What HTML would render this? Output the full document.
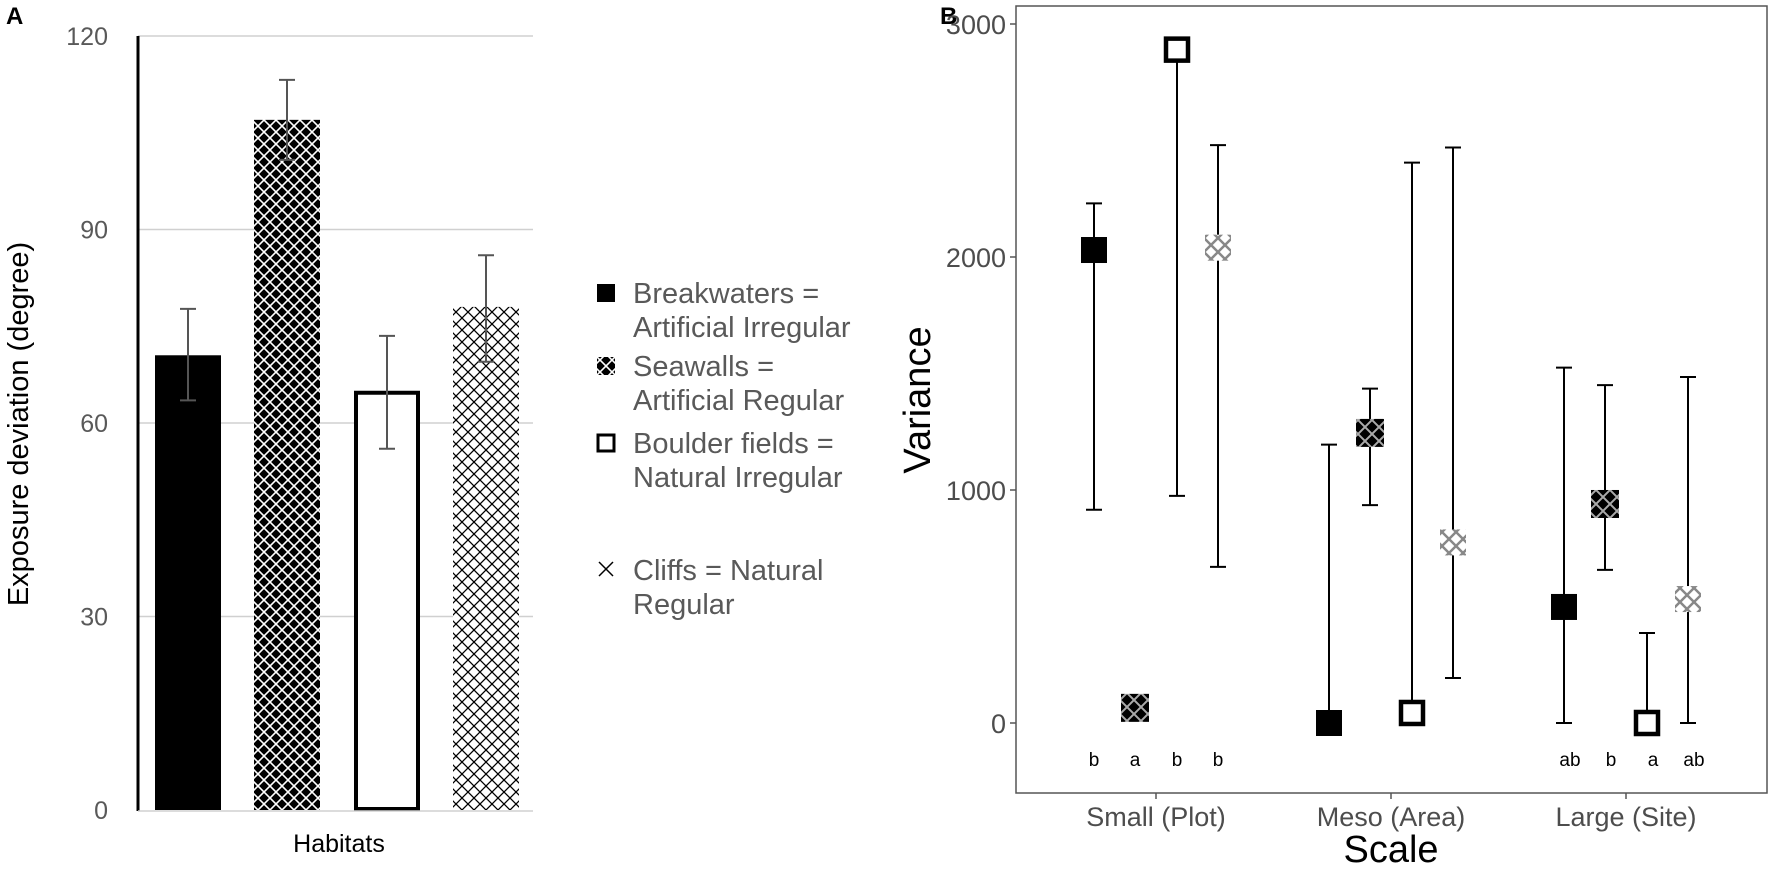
<!DOCTYPE html>
<html><head><meta charset="utf-8"><style>
body{margin:0;background:#fff;width:1772px;height:872px;overflow:hidden}
svg{display:block}
text{font-family:"Liberation Sans",sans-serif}
</style></head><body>
<svg id="fig" width="1772" height="872" viewBox="0 0 1772 872">
<defs>
<pattern id="pSea" width="12" height="12" patternUnits="userSpaceOnUse">
<rect width="12" height="12" fill="#000"/>
<path d="M0,0L12,12M12,0L0,12" stroke="#fff" stroke-width="1.6"/>
</pattern>
<pattern id="pCliff" width="12" height="12" patternUnits="userSpaceOnUse">
<rect width="12" height="12" fill="#fff"/>
<path d="M0,0L12,12M12,0L0,12" stroke="#000" stroke-width="1.3"/>
</pattern>
<pattern id="pSeaM" width="14" height="14" patternUnits="userSpaceOnUse">
<rect width="14" height="14" fill="#000"/>
<path d="M0,0L14,14M14,0L0,14" stroke="#aaa" stroke-width="2"/>
</pattern>
<pattern id="pCliffM" width="14" height="14" patternUnits="userSpaceOnUse">
<path d="M0,0L14,14M14,0L0,14" stroke="#888" stroke-width="2.5"/>
</pattern>
</defs>
<text x="6" y="24" font-size="24" font-weight="bold">A</text>
<text x="940" y="24" font-size="24" font-weight="bold">B</text>
<g id="pa"></g>
<g id="legend"></g>
<g id="pb"></g>
</svg>
<script>
const NS="http://www.w3.org/2000/svg";
function mk(tag,attrs,parent,txt){const e=document.createElementNS(NS,tag);for(const k in attrs)e.setAttribute(k,attrs[k]);if(txt!==undefined)e.textContent=txt;parent.appendChild(e);return e;}

// ---------- Panel A data ----------
const habitats=["Breakwaters","Seawalls","Boulder fields","Cliffs"];
const habMeans=[70.5,107,65,78];
const habLow=[63.5,100.8,56,69.5];
const habHigh=[77.7,113.2,73.5,86];
const aTicks=[0,30,60,90,120];

// ---------- Panel B data ----------
const scales=["Small (Plot)","Meso (Area)","Large (Site)"];
const bwVar=[2030,0,498];
const bwLow=[915,0,0];
const bwHigh=[2230,1195,1525];
const swVar=[65,1245,940];
const swLow=[65,935,657];
const swHigh=[65,1435,1450];
const bfVar=[2890,43,0];
const bfLow=[975,43,0];
const bfHigh=[2890,2405,386];
const clVar=[2040,775,532];
const clLow=[670,193,0];
const clHigh=[2480,2470,1485];
const letters=[["b","a","b","b"],["","","",""],["ab","b","a","ab"]];
const bTicks=[0,1000,2000,3000];

// ---------- Panel A ----------
const pa=document.getElementById('pa');
const aY=v=>810-v*(774/120);
const aLeft=138,aRight=533;
aTicks.forEach(t=>{
  if(t>0){const g=mk('line',{x1:aLeft,x2:aRight,y1:aY(t),y2:aY(t),stroke:'#d0d0d0','stroke-width':1.5},pa);
  }
  const l=mk('text',{x:108,y:aY(t)+9,'font-size':25,fill:'#595959','text-anchor':'end'},pa,t);
  
});
const bxs=[155,254,354,453],bw=66;
const fills=['#000','url(#pSea)','#fff','url(#pCliff)'];
habMeans.forEach((v,i)=>{
  const x=bxs[i];
  if(i===2){
    const r=mk('rect',{x:x+2,y:aY(v)+2,width:bw-4,height:aY(0)-aY(v)-3,fill:'#fff',stroke:'#000','stroke-width':4},pa);
    
  } else {
    const r=mk('rect',{x:x,y:aY(v),width:bw,height:aY(0)-aY(v),fill:fills[i]},pa);
    
  }
  const cx=x+bw/2;
  const e=mk('path',{d:`M${cx},${aY(habLow[i])}V${aY(habHigh[i])}M${cx-8},${aY(habLow[i])}H${cx+8}M${cx-8},${aY(habHigh[i])}H${cx+8}`,stroke:'#555','stroke-width':2,fill:'none'},pa);
  
});
const ax=mk('line',{x1:aLeft,x2:aLeft,y1:36,y2:811,stroke:'#000','stroke-width':3},pa);

const ab=mk('line',{x1:aLeft,x2:aRight,y1:811,y2:811,stroke:'#d0d0d0','stroke-width':1.5},pa);

const yt=mk('text',{x:0,y:0,'font-size':29,fill:'#000','text-anchor':'middle',transform:'translate(28,424) rotate(-90)'},pa,'Exposure deviation (degree)');

const xt=mk('text',{x:339,y:852,'font-size':25,fill:'#000','text-anchor':'middle'},pa,'Habitats');


// ---------- Legend ----------
const lg=document.getElementById('legend');
const legItems=[["Breakwaters =","Artificial Irregular"],["Seawalls =","Artificial Regular"],["Boulder fields =","Natural Irregular"],["Cliffs = Natural","Regular"]];
const legY=[303,376,453,580];
legItems.forEach((it,i)=>{
  const y=legY[i];
  let s;
  if(i===0) s=mk('rect',{x:597,y:y-19,width:18,height:18,fill:'#000'},lg);
  else if(i===1) s=mk('rect',{x:597,y:y-19,width:18,height:18,fill:'url(#pSea)'},lg);
  else if(i===2) s=mk('rect',{x:598,y:y-18,width:16,height:16,fill:'#fff',stroke:'#000','stroke-width':3},lg);
  else s=mk('path',{d:`M599,${y-18}L613,${y-4}M613,${y-18}L599,${y-4}`,stroke:'#000','stroke-width':1.5},lg);
  
  const t1=mk('text',{x:633,y:y,'font-size':29,fill:'#595959'},lg,it[0]);
  
  const t2=mk('text',{x:633,y:y+34,'font-size':29,fill:'#595959'},lg,it[1]);
  
});

// ---------- Panel B ----------
const pb=document.getElementById('pb');
const bL=1016,bR=1767,bT=6,bB=793;
const bY=v=>723-v*0.233;
const bX=i=>1156+i*235;
const offs=[-62,-21,21,62];
const box=mk('rect',{x:bL,y:bT,width:bR-bL,height:bB-bT,fill:'none',stroke:'#555','stroke-width':1.5},pb);

bTicks.forEach(t=>{
  const tk=mk('line',{x1:bL-6,x2:bL,y1:bY(t),y2:bY(t),stroke:'#555','stroke-width':1.5},pb);
  
  const l=mk('text',{x:bL-10,y:bY(t)+10,'font-size':27,fill:'#4d4d4d','text-anchor':'end'},pb,t);
  
});
scales.forEach((s,i)=>{
  const tk=mk('line',{x1:bX(i),x2:bX(i),y1:bB,y2:bB+6,stroke:'#555','stroke-width':1.5},pb);
  
  const l=mk('text',{x:bX(i),y:826,'font-size':27,fill:'#4d4d4d','text-anchor':'middle'},pb,s);
  
});
const series=[
 {name:'breakwaters',v:bwVar,lo:bwLow,hi:bwHigh},
 {name:'seawalls',v:swVar,lo:swLow,hi:swHigh},
 {name:'boulder-fields',v:bfVar,lo:bfLow,hi:bfHigh},
 {name:'cliffs',v:clVar,lo:clLow,hi:clHigh}];
series.forEach((s,k)=>{
  scales.forEach((sc,i)=>{
    const x=bX(i)+offs[k];
    if(s.hi[i]!==s.lo[i]){
      let d=`M${x},${bY(s.lo[i])}V${bY(s.hi[i])}`;
      if(s.lo[i]<s.v[i]) d+=`M${x-8},${bY(s.lo[i])}H${x+8}`;
      if(s.hi[i]>s.v[i]) d+=`M${x-8},${bY(s.hi[i])}H${x+8}`;
      const e=mk('path',{d:d,stroke:'#000','stroke-width':2,fill:'none'},pb);
      
    }
    const y=bY(s.v[i]);let m;
    if(k===0) m=mk('rect',{x:x-13,y:y-13,width:26,height:26,fill:'#000'},pb);
    else if(k===1) m=mk('rect',{x:x-14,y:y-14,width:28,height:28,fill:'url(#pSeaM)'},pb);
    else if(k===2) m=mk('rect',{x:x-11,y:y-11,width:22,height:22,fill:'#fff',stroke:'#000','stroke-width':4.5},pb);
    else {mk('rect',{x:x-13,y:y-13,width:26,height:26,fill:'#fff'},pb);
      m=mk('rect',{x:x-13,y:y-13,width:26,height:26,fill:'url(#pCliffM)'},pb);}
    
    const lt=letters[i][k];
    if(lt){const t=mk('text',{x:x+(i===2?6:0),y:766,'font-size':19,fill:'#000','text-anchor':'middle'},pb,lt);
      }
  });
});
const vt=mk('text',{x:0,y:0,'font-size':38,fill:'#000','text-anchor':'middle',transform:'translate(930,400) rotate(-90)'},pb,'Variance');

const st=mk('text',{x:1391,y:862,'font-size':38,fill:'#000','text-anchor':'middle'},pb,'Scale');

</script>
</body></html>
